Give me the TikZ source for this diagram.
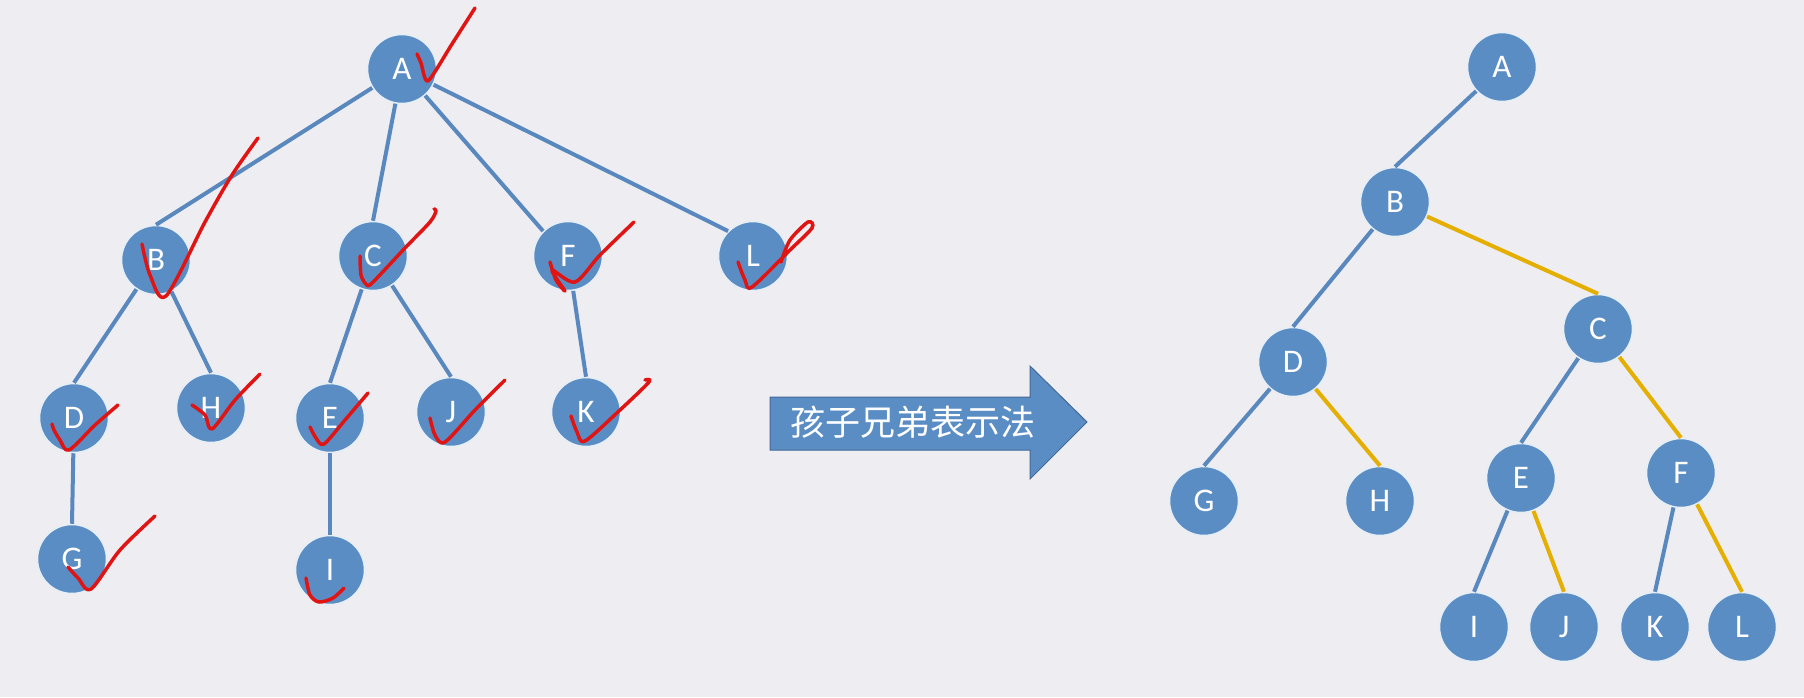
\documentclass[tikz,border=0pt]{standalone}
\usepackage{fontspec}
\setmainfont{Carlito}
\newfontfamily\cjk{Noto Sans CJK SC}
\definecolor{bg}{RGB}{238,237,241}
\definecolor{nodeblue}{RGB}{91,141,197}
\definecolor{lineblue}{RGB}{88,136,190}
\definecolor{goldline}{RGB}{228,175,0}
\definecolor{inkred}{RGB}{225,20,20}
\definecolor{arrowedge}{RGB}{65,105,150}
\begin{document}
\begin{tikzpicture}[x=1pt,y=-1pt,
  tn/.style={circle,fill=nodeblue,draw=white!85!nodeblue,line width=1.5pt,minimum size=69pt,inner sep=0pt,text=white,font=\fontsize{33}{33}\selectfont},
  be/.style={draw=lineblue,line width=4pt},
  ge/.style={draw=goldline,line width=4pt},
  tick/.style={draw=inkred,line width=3.5pt,line cap=round,line join=round}]
\fill[bg] (0,0) rectangle (1804,697);
\useasboundingbox (0,0) rectangle (1804,697);

% left tree
\node[tn] (lA) at (402,69) {A};
\node[tn] (lB) at (156,260) {B};
\node[tn] (lC) at (373,256) {C};
\node[tn] (lF) at (568,256) {F};
\node[tn] (lL) at (753,256) {L};
\node[tn] (lD) at (74,418) {D};
\node[tn] (lH) at (211,408) {H};
\node[tn] (lE) at (330,418) {E};
\node[tn] (lJ) at (451,412) {J};
\node[tn] (lK) at (586,412) {K};
\node[tn] (lG) at (72,559) {G};
\node[tn] (lI) at (330,570) {I};

\draw[be] (lA) -- (lB.north);
\draw[be] (lA) -- (lC.north);
\draw[be] (lA) -- (lF.north west);
\draw[be] (lA) -- (lL.north west);
\draw[be] (lB) -- (lD.north);
\draw[be] (lB) -- (lH.north);
\draw[be] (lC) -- (lE.north);
\draw[be] (lC) -- (lJ.north);
\draw[be] (lF) -- (lK.north);
\draw[be] (lD) -- (lG.north);
\draw[be] (lE) -- (lI.north);

% arrow
\filldraw[fill=nodeblue,draw=arrowedge,line width=1pt]
  (770,397) -- (1030,397) -- (1030,366) -- (1087,422) -- (1030,479) -- (1030,450) -- (770,450) -- cycle;
\node[text=white,font=\cjk\fontsize{35}{35}\selectfont,inner sep=0pt] (lbl) at (913,422) {孩子兄弟表示法};

% right tree
\node[tn] (rA) at (1502,67) {A};
\node[tn] (rB) at (1395,202) {B};
\node[tn] (rC) at (1598,329) {C};
\node[tn] (rD) at (1293,362) {D};
\node[tn] (rE) at (1521,478) {E};
\node[tn] (rF) at (1681,473) {F};
\node[tn] (rG) at (1204,501) {G};
\node[tn] (rH) at (1380,501) {H};
\node[tn] (rI) at (1474,627) {I};
\node[tn] (rJ) at (1564,627) {J};
\node[tn] (rK) at (1655,627) {K};
\node[tn] (rL) at (1742,627) {L};

\draw[be] (rA) -- (rB.north);
\draw[be] (rB) -- (rD.north);
\draw[be] (rD) -- (rG.north);
\draw[be] (rC) -- (rE.north);
\draw[be] (rE) -- (rI.north);
\draw[be] (rF) -- (rK.north);
\draw[ge] (rB) -- (rC.north);
\draw[ge] (rD) -- (rH.north);
\draw[ge] (rC) -- (rF.north);
\draw[ge] (rE) -- (rJ.north);
\draw[ge] (rF) -- (rL.north);

% hand-drawn check marks
\draw[tick] plot[smooth,tension=0.4] coordinates {(417,54) (421,63) (428,81) (452,44) (475,8)};
\draw[tick] plot[smooth,tension=0.5] coordinates {(142,244) (150,275) (166,296) (205,222) (232,175) (258,138)};
\draw[tick] plot[smooth,tension=0.5] coordinates {(360,256) (361,275) (366,284) (372,283) (405,248) (430,222) (436,211) (434,209)};
\draw[tick] plot[smooth,tension=0.5] coordinates {(550,262) (556,280) (565,291) (552,270) (575,282) (600,255) (634,222)};
\draw[tick] plot[smooth,tension=0.5] coordinates {(738,262) (745,280) (752,287) (790,250) (812,228) (808,222) (790,240) (781,262)};
\draw[tick] plot[smooth,tension=0.5] coordinates {(52,424) (54,430) (60,440) (69,450) (95,425) (118,405)};
\draw[tick] plot[smooth,tension=0.5] coordinates {(192,405) (205,415) (212,429) (235,400) (260,374)};
\draw[tick] plot[smooth,tension=0.5] coordinates {(310,427) (316,438) (324,444) (345,420) (368,393)};
\draw[tick] plot[smooth,tension=0.5] coordinates {(430,418) (435,435) (445,442) (475,410) (505,380)};
\draw[tick] plot[smooth,tension=0.5] coordinates {(571,416) (577,432) (585,441) (620,410) (649,382) (645,380)};
\draw[tick] plot[smooth,tension=0.5] coordinates {(68,567) (78,578) (91,589) (120,550) (155,516)};
\draw[tick] plot[smooth,tension=0.5] coordinates {(306,578) (310,595) (319,602) (333,598) (344,588)};
\end{tikzpicture}
\end{document}
